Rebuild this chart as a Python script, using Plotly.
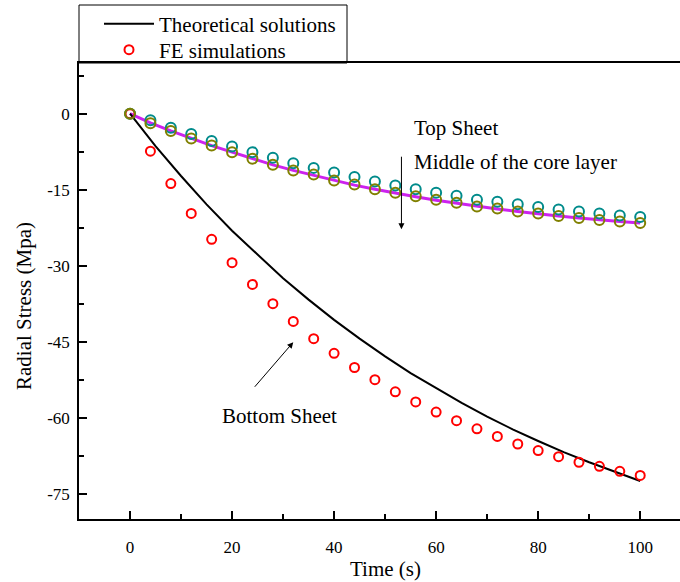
import plotly.graph_objects as go

# ---- data ----
t_theory = [0, 5, 10, 15, 20, 25, 30, 35, 40, 45, 50, 55, 60, 65, 70, 75, 80, 85, 90, 95, 100]
theory_bottom = [0, -6.4, -12.3, -17.9, -23.1, -27.9, -32.5, -36.7, -40.7, -44.4, -47.9,
                 -51.2, -54.2, -57.1, -59.8, -62.3, -64.6, -66.8, -68.8, -70.7, -72.5]

t_fe = [0, 4, 8, 12, 16, 20, 24, 28, 32, 36, 40, 44, 48, 52, 56, 60, 64, 68, 72, 76, 80, 84, 88, 92, 96, 100]
fe_bottom = [0, -7.4, -13.8, -19.7, -24.8, -29.4, -33.7, -37.5, -41.0, -44.4, -47.3, -50.1, -52.5,
             -54.9, -56.9, -58.9, -60.6, -62.2, -63.7, -65.2, -66.5, -67.7, -68.8, -69.6, -70.6, -71.4]
fe_top = [0, -1.3, -2.8, -4.0, -5.4, -6.5, -7.6, -8.7, -9.8, -10.7, -11.6, -12.5, -13.4,
          -14.2, -14.9, -15.6, -16.2, -17.0, -17.4, -17.9, -18.4, -18.9, -19.3, -19.7, -20.1, -20.4]
fe_middle = [0, -1.9, -3.4, -4.9, -6.3, -7.6, -8.9, -10.1, -11.2, -12.0, -13.2, -14.0, -14.9,
             -15.6, -16.3, -17.0, -17.6, -18.3, -18.7, -19.3, -19.7, -20.2, -20.6, -21.0, -21.3, -21.6]
theory_core = [0, -1.8, -3.4, -4.9, -6.3, -7.6, -8.9, -10.1, -11.2, -12.2, -13.2, -14.1, -14.9,
               -15.7, -16.4, -17.1, -17.7, -18.3, -18.8, -19.3, -19.8, -20.2, -20.6, -21.0, -21.3, -21.6]

x_ticks = [0, 20, 40, 60, 80, 100]
y_ticks = [0, -15, -30, -45, -60, -75]

FONT = "Liberation Serif"
RED = "#FF0000"
TEAL = "#008B8B"
OLIVE = "#808000"
MAGENTA = "#CC22EE"

fig = go.Figure()

# core-layer theoretical line (magenta)
fig.add_trace(go.Scatter(x=t_fe, y=theory_core, mode="lines",
                         line=dict(color=MAGENTA, width=3), showlegend=False))
# theoretical bottom sheet (black)
fig.add_trace(go.Scatter(x=t_theory, y=theory_bottom, mode="lines",
                         line=dict(color="black", width=2),
                         name="Theoretical solutions", legend="legend"))
# FE bottom sheet
fig.add_trace(go.Scatter(x=t_fe, y=fe_bottom, mode="markers",
                         marker=dict(symbol="circle-open", size=9, color=RED,
                                     line=dict(width=2, color=RED)),
                         name="FE simulations", legend="legend2"))
# FE top sheet
fig.add_trace(go.Scatter(x=t_fe, y=fe_top, mode="markers",
                         marker=dict(symbol="circle-open", size=10, color=TEAL,
                                     line=dict(width=2, color=TEAL)),
                         showlegend=False))
# FE middle of core
fig.add_trace(go.Scatter(x=t_fe, y=fe_middle, mode="markers",
                         marker=dict(symbol="circle-open", size=10, color=OLIVE,
                                     line=dict(width=2, color=OLIVE)),
                         showlegend=False))

axis_common = dict(
    showline=True, linecolor="black", linewidth=1.5,
    ticks="inside", ticklen=8, tickwidth=1.5, tickcolor="black",
    showgrid=False, zeroline=False,
    tickfont=dict(family=FONT, size=17, color="black"),
)

fig.update_xaxes(range=[-10, 107.8], tickvals=x_ticks, ticktext=[str(v) for v in x_ticks],
                 mirror=True, ticklabelstandoff=12,
                 minor=dict(ticks="inside", ticklen=5, tickwidth=1.5, tickcolor="black",
                            tickvals=[10, 30, 50, 70, 90]),
                 **axis_common)
fig.update_yaxes(range=[-80, 10], tickvals=y_ticks, ticktext=[str(v) for v in y_ticks],
                 ticklabelstandoff=4,
                 minor=dict(ticks="inside", ticklen=5, tickwidth=1.5, tickcolor="black",
                            tickvals=[7.5, -7.5, -22.5, -37.5, -52.5, -67.5]),
                 **axis_common)

W, H = 680, 582
L, T, B = 79, 63, 63
pw, ph = W - L, H - T - B


def px(xp):
    return (xp - L) / pw


def py(yp):
    return (H - B - yp) / ph


# legend frame
fig.add_shape(type="rect", xref="paper", yref="paper",
              x0=px(79), x1=px(347), y0=py(63), y1=py(5),
              line=dict(color="black", width=1), fillcolor="white", layer="below")

legend_font = dict(family=FONT, size=21, color="black")
fig.update_layout(
    legend=dict(x=px(99), y=py(24), xanchor="left", yanchor="middle",
                bgcolor="rgba(0,0,0,0)", borderwidth=0, font=legend_font, itemwidth=50),
    legend2=dict(x=px(99), y=py(50), xanchor="left", yanchor="middle",
                 bgcolor="rgba(0,0,0,0)", borderwidth=0, font=legend_font, itemwidth=50),
)

ann_font = dict(family=FONT, size=21, color="black")
annotations = [
    dict(text="Top Sheet", x=55.3, y=-2.9, xref="x", yref="y", xanchor="left",
         yanchor="middle", showarrow=False, font=ann_font),
    dict(text="Middle of the core layer", x=55.3, y=-9.6, xref="x", yref="y",
         xanchor="left", yanchor="middle", showarrow=False, font=ann_font),
    dict(text="Bottom Sheet", x=17.6, y=-59.7, xref="x", yref="y", xanchor="left",
         yanchor="middle", showarrow=False, font=ann_font),
    # arrows
    dict(text="", x=53.2, y=-22.8, ax=53.2, ay=-8.2, xref="x", yref="y",
         axref="x", ayref="y", showarrow=True, arrowhead=2, arrowsize=1.2,
         arrowwidth=1, arrowcolor="black"),
    dict(text="", x=32.0, y=-45.1, ax=24.2, ay=-54.2, xref="x", yref="y",
         axref="x", ayref="y", showarrow=True, arrowhead=2, arrowsize=1.2,
         arrowwidth=1, arrowcolor="black"),
    # axis titles
    dict(text="Time (s)", x=px(385), y=py(569), xref="paper", yref="paper",
         xanchor="center", yanchor="middle", showarrow=False,
         font=dict(family=FONT, size=21, color="black")),
    dict(text="Radial Stress (Mpa)", x=px(24), y=py(306), xref="paper", yref="paper",
         xanchor="center", yanchor="middle", textangle=-90, showarrow=False,
         font=dict(family=FONT, size=21, color="black")),
]

fig.update_layout(
    width=W, height=H,
    margin=dict(l=L, r=0, t=T, b=B),
    paper_bgcolor="white", plot_bgcolor="white",
    annotations=annotations,
    font=dict(family=FONT, color="black"),
)

fig.write_html("out.html", config={"displayModeBar": False},
               post_script="document.body.style.margin='0';document.body.style.padding='0';")
